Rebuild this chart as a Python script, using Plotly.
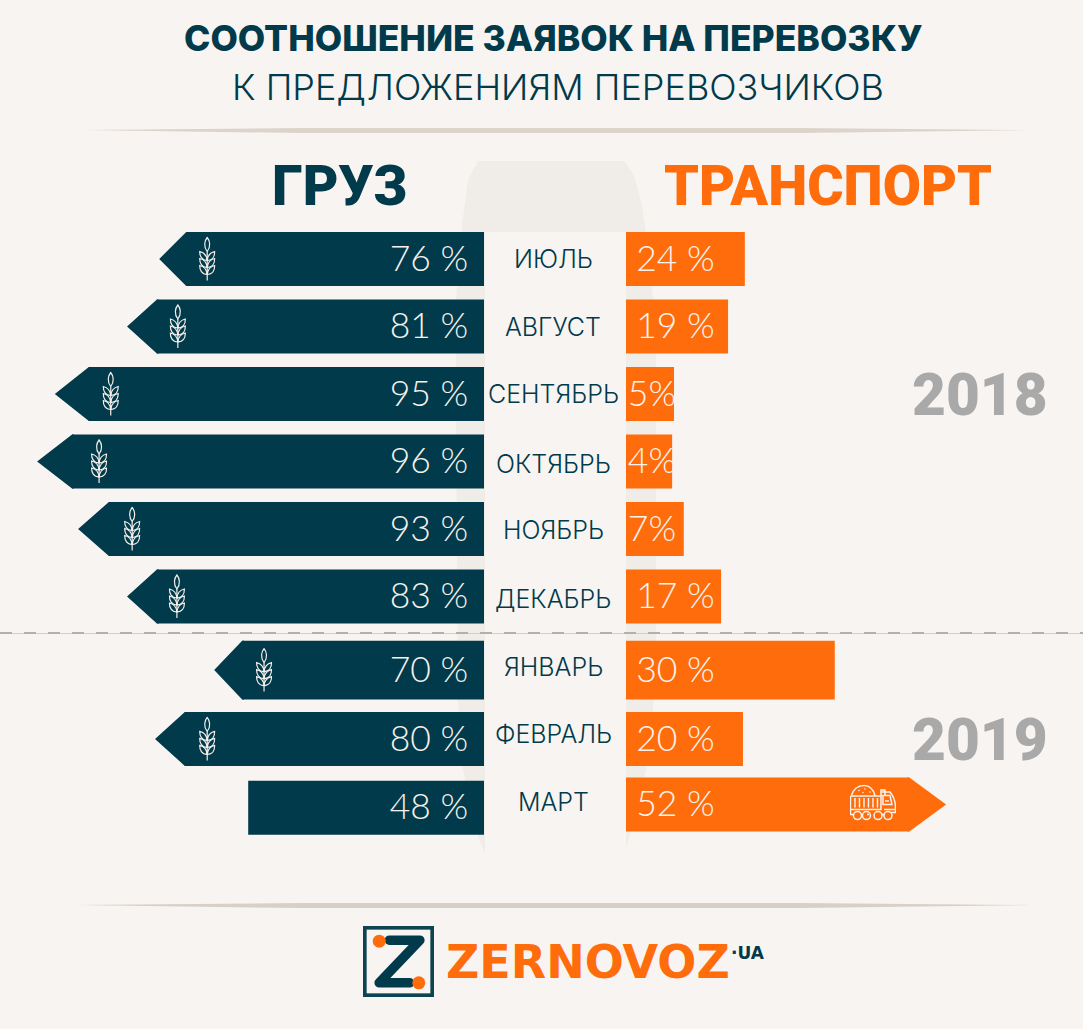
import base64
import plotly.graph_objects as go

# Chart data
months = ["ИЮЛЬ", "АВГУСТ", "СЕНТЯБРЬ", "ОКТЯБРЬ", "НОЯБРЬ", "ДЕКАБРЬ", "ЯНВАРЬ", "ФЕВРАЛЬ", "МАРТ"]
cargo_pct = [76, 81, 95, 96, 93, 83, 70, 80, 48]
transport_pct = [24, 19, 5, 4, 7, 17, 30, 20, 52]
# the bars in the original are not to scale, these are the drawn lengths
cargo_drawn = [69.7, 76.6, 92.1, 95.9, 87.1, 76.6, 57.9, 70.6, 50.6]
transport_drawn = [25.5, 21.9, 10.3, 9.9, 12.4, 20.4, 44.8, 25.1, 68.7]
cargo_arrow = [True, True, True, True, True, True, True, True, False]
transport_arrow = [False, False, False, False, False, False, False, False, True]
transport_labels = ["24 %", "19 %", "5%", "4%", "7%", "17 %", "30 %", "20 %", "52 %"]
years = ["2018", "2019"]

W, H = 1083, 1029
BG = "#f8f4f1"
TEAL = "#013a4a"
ORANGE = "#ff6c0c"
GREY = "#a9a9a9"
FONT = "Inter"
NUM_FONT = "Lato"
HEAD_FONT = "Roboto"
UNIT = 4.66  # px per axis unit
ROW = 67.5  # px per row
ROW0 = 259  # px of first row


def px(x):
    return x / W


def py(y):
    return 1 - y / H


def pth(points):
    return "M " + " L ".join(f"{px(x):.5f},{py(y):.5f}" for x, y in points) + " Z"


def svg_uri(svg):
    return "data:image/svg+xml;base64," + base64.b64encode(svg.encode()).decode()


# Row placement (2019 sits a little lower, the rows are not quite even)
row_y = [i if i < 6 else i + 0.09 + 0.02 * (i - 6) for i in range(len(months))]
transport_y = row_y[:8] + [8.08]
month_y = [0, 1, 2, 3.03, 4.01, 5.04, 6.04, 7.04, 8.04]
bar_h = [0.8] * 6 + [0.87, 0.8, 0.8]
cargo_tip = [5.8, 6.4, 7.3, 7.5, 6.6, 6.4, 6.0, 6.4, 0]
transport_tip = [0] * 8 + [7.9]
wheat_inset = [10.3, 10.9, 12.0, 13.3, 11.6, 10.7, 10.7, 11.2]
num_shift = 0.04


def tips(drawn, depth, ys_row):
    # start the polygon a little inside the bar so no seam shows
    xs, ys = [], []
    for d, t, y, h in zip(drawn, depth, ys_row, bar_h):
        if t:
            xs += [d - t - 0.4, d - t, d, d - t, d - t - 0.4, None]
            ys += [y - h / 2, y - h / 2, y, y + h / 2, y + h / 2, None]
    return xs, ys


# Icons
wheat_parts = ['<path d="M17 88V30"/>', '<path d="M17 30C9 20 12 8 17 2C22 8 25 20 17 30Z"/>']
for yy in (36, 50, 64):
    wheat_parts.append(f'<path d="M17 {yy + 12}C6 {yy + 12} 2 {yy + 3} 2 {yy - 6}C11 {yy - 4} 16 {yy + 2} 17 {yy + 12}Z"/>')
    wheat_parts.append(f'<path d="M17 {yy + 12}C28 {yy + 12} 32 {yy + 3} 32 {yy - 6}C23 {yy - 4} 18 {yy + 2} 17 {yy + 12}Z"/>')
wheat_svg = ('<svg xmlns="http://www.w3.org/2000/svg" viewBox="0 0 34 90" width="34" height="90">'
             '<g fill="none" stroke="#f5f0ec" stroke-width="2.4">' + "".join(wheat_parts) + "</g></svg>")

truck_svg = ('<svg xmlns="http://www.w3.org/2000/svg" viewBox="0 0 92 74" width="92" height="74">'
             '<g fill="none" stroke="#fbf3ec" stroke-width="3">'
             '<path d="M3 22C8 6 20 2 28 2C38 2 46 8 50 22"/>'
             '<path d="M1 23H62V11H70V23M1 23V50H62V23"/>'
             '<path d="M10 27V46M19 27V46M28 27V46M37 27V46M46 27V46M55 27V46"/>'
             '<path d="M62 15H80C86 22 90 32 91 42V56H82M62 22H80L84 40H66V22"/>'
             '<path d="M70 33H78M1 50V60H8M34 60H38M62 60H70M91 50H68"/>'
             '<circle cx="15" cy="62" r="8"/><circle cx="33" cy="62" r="8"/><circle cx="56" cy="62" r="8"/>'
             '<circle cx="76" cy="62" r="8"/>'
             '</g><g fill="#fbf3ec"><circle cx="18" cy="12" r="1.6"/><circle cx="30" cy="9" r="1.6"/>'
             '<circle cx="40" cy="15" r="1.6"/><circle cx="26" cy="16" r="1.6"/></g></svg>')

logo_svg = ('<svg xmlns="http://www.w3.org/2000/svg" viewBox="0 0 70 70" width="210" height="210">'
            f'<rect x="1.8" y="1.8" width="66.4" height="66.4" fill="none" stroke="#0c4454" stroke-width="3.6"/>'
            f'<path d="M26 14H56L16 56H46" fill="none" stroke="{TEAL}" stroke-width="9.5" '
            'stroke-linecap="round" stroke-linejoin="round"/>'
            f'<circle cx="16" cy="15" r="6.4" fill="{ORANGE}"/><circle cx="55" cy="56" r="6.4" fill="{ORANGE}"/></svg>')

fig = go.Figure()

# Cargo side
fig.add_trace(go.Bar(
    x=[d - t for d, t in zip(cargo_drawn, cargo_tip)], y=row_y, orientation="h",
    width=bar_h, marker=dict(color=TEAL, line_width=0), xaxis="x", yaxis="y", hoverinfo="skip",
))
tx, ty = tips(cargo_drawn, cargo_tip, row_y)
fig.add_trace(go.Scatter(x=tx, y=ty, fill="toself", fillcolor=TEAL, mode="none", xaxis="x", yaxis="y", hoverinfo="skip"))
fig.add_trace(go.Scatter(
    x=[3.4] * len(months), y=[y + num_shift for y in row_y], mode="text", text=[f"{v} %" for v in cargo_pct],
    textposition="middle left", textfont=dict(family=NUM_FONT, size=35.5, color="#f6f1ed", weight=300),
    xaxis="x", yaxis="y", hoverinfo="skip", cliponaxis=False,
))

# Transport side
fig.add_trace(go.Bar(
    x=[d - t for d, t in zip(transport_drawn, transport_tip)], y=transport_y, orientation="h",
    width=bar_h, marker=dict(color=ORANGE, line_width=0), xaxis="x2", yaxis="y", hoverinfo="skip",
))
tx, ty = tips(transport_drawn, transport_tip, transport_y)
fig.add_trace(go.Scatter(x=tx, y=ty, fill="toself", fillcolor=ORANGE, mode="none", xaxis="x2", yaxis="y", hoverinfo="skip"))
fig.add_trace(go.Scatter(
    x=[0.4 if v < 10 else 2.2 for v in transport_pct], y=[y + num_shift for y in transport_y], mode="text",
    text=transport_labels,
    textposition="middle right", textfont=dict(family=NUM_FONT, size=35.5, color="#fbf3ec", weight=300),
    xaxis="x2", yaxis="y", hoverinfo="skip", cliponaxis=False,
))

shapes = [
    # silo shape behind the bars
    dict(type="path", xref="paper", yref="paper", layer="below", line_width=0, fillcolor="#f0ece8",
         path=pth([(478, 161), (624, 161), (634, 175), (642, 205), (647, 240), (652, 285), (656, 357), (656, 640),
                   (652, 730), (647, 765), (636, 815), (626, 848), (484, 852), (478, 835), (463, 770), (458, 700),
                   (456, 420), (456, 300), (462, 225), (468, 180)])),
    dict(type="rect", xref="paper", yref="paper", layer="below", line_width=0, fillcolor=BG,
         x0=px(485), x1=px(626), y0=py(232), y1=py(860)),
    # tapered dividers
    dict(type="path", xref="paper", yref="paper", layer="below", line_width=0, fillcolor="#dcd3ca",
         path=pth([(83, 130), (300, 128), (800, 128), (1030, 130), (800, 133), (300, 133)])),
    dict(type="path", xref="paper", yref="paper", layer="below", line_width=0, fillcolor="#d8cfc6",
         path=pth([(75, 905), (300, 903), (800, 903), (1030, 905), (800, 908), (300, 908)])),
    # year split
    dict(type="line", xref="paper", yref="paper", x0=0, x1=1, y0=py(633.5), y1=py(633.5),
         line=dict(color="#cfcfcc", width=1)),
    dict(type="line", xref="paper", yref="paper", x0=0, x1=1, y0=py(633), y1=py(633),
         line=dict(color="#b0b0ae", width=2, dash="12px 12px")),
]

annotations = []


def note(text, x, y, size, color, anchor="center", weight=400, family=FONT):
    annotations.append(dict(text=text, x=px(x), y=py(y), xref="paper", yref="paper", showarrow=False,
                            xanchor=anchor, yanchor="middle",
                            font=dict(family=family, size=size, color=color, weight=weight)))


note("СООТНОШЕНИЕ ЗАЯВОК НА ПЕРЕВОЗКУ", 553, 39, 35.5, TEAL, weight=800)
note("К ПРЕДЛОЖЕНИЯМ ПЕРЕВОЗЧИКОВ", 558, 87, 36, TEAL, weight=300)
note("ГРУЗ", 340, 186, 55, TEAL, weight=900, family=HEAD_FONT)
note("ТРАНСПОРТ", 828, 186, 55.5, ORANGE, weight=900, family=HEAD_FONT)
note(years[0], 980, 395, 58.5, GREY, weight=900, family=HEAD_FONT)
note(years[1], 980, 740, 58.5, GREY, weight=900, family=HEAD_FONT)
note("ZERNOVOZ", 444, 962, 46, ORANGE, anchor="left", weight=700, family="DejaVu Sans")
note("·UA", 729, 953, 17, TEAL, anchor="left", weight=700, family="DejaVu Sans")

for name, y in zip(months, month_y):
    annotations.append(dict(text=name, x=px(553), y=y, xref="paper", yref="y", showarrow=False,
                            font=dict(family=FONT, size=25, color=TEAL, weight=300)))

images = [dict(source=svg_uri(logo_svg), xref="paper", yref="paper", x=px(363), y=py(926),
               sizex=71 / W, sizey=71 / H, xanchor="left", yanchor="top", layer="above")]

# wheat sits near the arrow tip
for d, t, inset, y in zip(cargo_drawn, cargo_tip, wheat_inset, row_y):
    images.append(dict(source=svg_uri(wheat_svg), xref="x", yref="y", x=d - inset, y=y,
                       sizex=17 / UNIT, sizey=45 / ROW, xanchor="center", yanchor="middle",
                       layer="above"))
images.append(dict(source=svg_uri(truck_svg), xref="x2", yref="y", x=transport_drawn[8] - 15.7, y=transport_y[8] - 0.02,
                   sizex=46 / UNIT, sizey=37 / ROW, xanchor="center", yanchor="middle", layer="above"))

fig.update_layout(
    width=W, height=H, margin=dict(l=0, r=0, t=0, b=0), showlegend=False, barmode="overlay",
    paper_bgcolor=BG, plot_bgcolor=BG,
    xaxis=dict(domain=[0, 484 / W], range=[484 / UNIT, 0], visible=False, fixedrange=True),
    xaxis2=dict(domain=[626 / W, 1], range=[0, (W - 626) / UNIT], visible=False, fixedrange=True),
    yaxis=dict(range=[(H - ROW0) / ROW, -ROW0 / ROW], visible=False, fixedrange=True),
    shapes=shapes, annotations=annotations, images=images,
)

fig.write_html("out.html", config={"displayModeBar": False},
               post_script="document.body.style.margin='0';document.body.style.overflow='hidden';")
